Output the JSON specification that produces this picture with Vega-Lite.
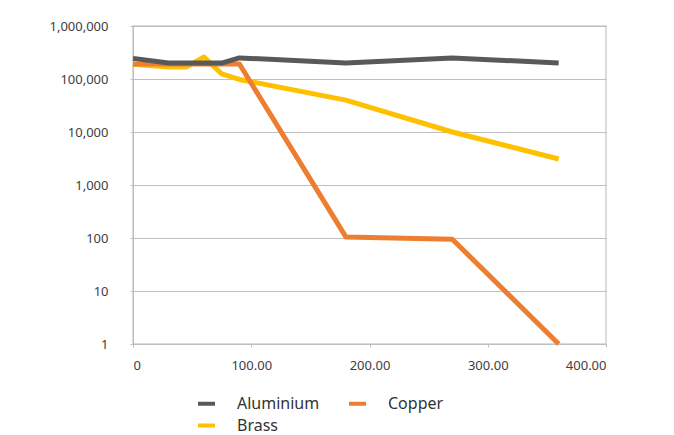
{
  "$schema": "https://vega.github.io/schema/vega-lite/v6.json",
  "width": 473,
  "height": 318,
  "autosize": {"type": "none"},
  "padding": {"left": 133, "top": 26, "right": 68, "bottom": 91},
  "background": "white",
  "config": {
    "font": "Noto Sans",
    "view": {"stroke": "#D0D0D0", "strokeWidth": 1.5}
  },
  "data": {
    "values": [
      {"series": "Brass", "x": 0, "y": 190000},
      {"series": "Brass", "x": 30, "y": 168000},
      {"series": "Brass", "x": 45, "y": 168000},
      {"series": "Brass", "x": 60, "y": 260000},
      {"series": "Brass", "x": 75, "y": 125000},
      {"series": "Brass", "x": 90, "y": 98000},
      {"series": "Brass", "x": 180, "y": 40000},
      {"series": "Brass", "x": 270, "y": 10000},
      {"series": "Brass", "x": 360, "y": 3100},
      {"series": "Copper", "x": 0, "y": 192000},
      {"series": "Copper", "x": 30, "y": 192000},
      {"series": "Copper", "x": 45, "y": 192000},
      {"series": "Copper", "x": 60, "y": 192000},
      {"series": "Copper", "x": 75, "y": 192000},
      {"series": "Copper", "x": 90, "y": 192000},
      {"series": "Copper", "x": 180, "y": 105},
      {"series": "Copper", "x": 270, "y": 95},
      {"series": "Copper", "x": 360, "y": 1},
      {"series": "Aluminium", "x": 0, "y": 245000},
      {"series": "Aluminium", "x": 30, "y": 200000},
      {"series": "Aluminium", "x": 45, "y": 200000},
      {"series": "Aluminium", "x": 60, "y": 200000},
      {"series": "Aluminium", "x": 75, "y": 200000},
      {"series": "Aluminium", "x": 90, "y": 250000},
      {"series": "Aluminium", "x": 180, "y": 200000},
      {"series": "Aluminium", "x": 270, "y": 250000},
      {"series": "Aluminium", "x": 360, "y": 200000}
    ]
  },
  "mark": {"type": "line", "strokeWidth": 5, "strokeJoin": "round", "strokeCap": "butt"},
  "encoding": {
    "x": {
      "field": "x",
      "type": "quantitative",
      "scale": {"domain": [0, 400], "nice": false, "zero": false},
      "axis": {
        "title": null,
        "values": [0, 100, 200, 300, 400],
        "labelExpr": "datum.value == 0 ? '0' : format(datum.value, '.2f')",
        "grid": false,
        "domainColor": "#BFBFBF",
        "tickColor": "#BFBFBF",
        "tickSize": 3,
        "labelPadding": 12,
        "labelFontSize": 13,
        "labelColor": "#404040"
      }
    },
    "y": {
      "field": "y",
      "type": "quantitative",
      "scale": {"type": "log", "domain": [1, 1000000], "nice": false},
      "axis": {
        "title": null,
        "values": [1, 10, 100, 1000, 10000, 100000, 1000000],
        "format": ",",
        "grid": true,
        "gridColor": "#BFBFBF",
        "domainColor": "#BFBFBF",
        "tickColor": "#BFBFBF",
        "tickSize": 3,
        "labelPadding": 22,
        "labelFontSize": 13,
        "labelColor": "#404040"
      }
    },
    "color": {
      "field": "series",
      "type": "nominal",
      "scale": {
        "domain": ["Aluminium", "Copper", "Brass"],
        "range": ["#595959", "#ED7D31", "#FFC000"]
      },
      "legend": {
        "title": null,
        "orient": "none",
        "direction": "horizontal",
        "legendX": 63,
        "legendY": 367,
        "columns": 2,
        "columnPadding": 21,
        "rowPadding": 3,
        "symbolType": "stroke",
        "symbolSize": 289,
        "symbolStrokeWidth": 4,
        "labelOffset": 20,
        "labelFontSize": 16,
        "labelColor": "#333333"
      }
    }
  }
}
